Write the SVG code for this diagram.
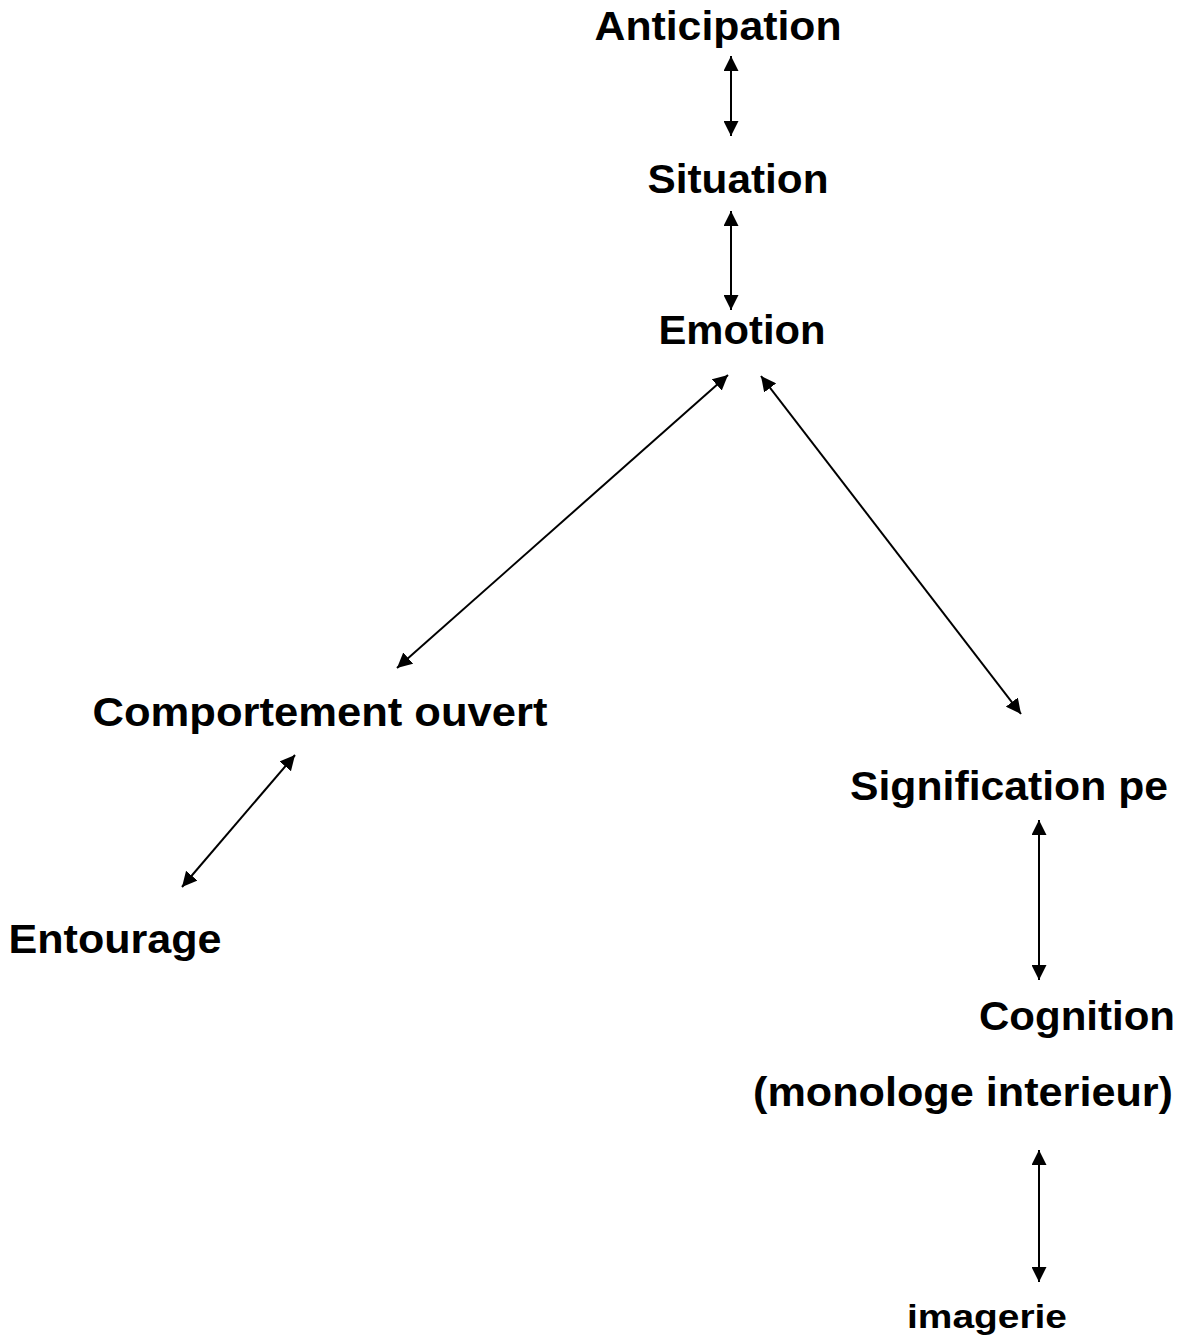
<svg xmlns="http://www.w3.org/2000/svg" width="1184" height="1342" viewBox="0 0 1184 1342">
<defs>
<marker id="ah" viewBox="0 0 15 15" refX="15" refY="7.5" markerWidth="15" markerHeight="15" markerUnits="userSpaceOnUse" orient="auto-start-reverse">
<path d="M0,0 L15,7.5 L0,15 Z" fill="#000"/>
</marker>
<style>
text{font-family:"Liberation Sans",Arial,sans-serif;font-weight:bold;fill:#000;text-anchor:middle;font-size:40px}
.c line{stroke:#000;stroke-width:2;marker-start:url(#ah);marker-end:url(#ah)}
</style>
</defs>
<rect width="1184" height="1342" fill="#fff"/>
<g id="n-anticipation"><text x="718" y="40" textLength="247" lengthAdjust="spacingAndGlyphs">Anticipation</text></g>
<g id="n-situation"><text x="738" y="193" textLength="181" lengthAdjust="spacingAndGlyphs">Situation</text></g>
<g id="n-emotion"><text x="742" y="344" textLength="167" lengthAdjust="spacingAndGlyphs">Emotion</text></g>
<g id="n-comportement"><text x="320" y="726" textLength="455" lengthAdjust="spacingAndGlyphs">Comportement ouvert</text></g>
<g id="n-entourage"><text x="115" y="953" textLength="213" lengthAdjust="spacingAndGlyphs">Entourage</text></g>
<g id="n-signification"><text x="1009" y="800" textLength="318" lengthAdjust="spacingAndGlyphs">Signification pe</text></g>
<g id="n-cognition"><text x="1077" y="1030" textLength="196" lengthAdjust="spacingAndGlyphs">Cognition</text><text x="963" y="1106" textLength="420" lengthAdjust="spacingAndGlyphs">(monologe interieur)</text></g>
<g id="n-imagerie"><text x="987" y="1328" style="font-size:34px" textLength="160" lengthAdjust="spacingAndGlyphs">imagerie</text></g>
<g class="c" id="connectors">
<line x1="731" y1="56" x2="731" y2="136"/>
<line x1="731" y1="211" x2="731" y2="310"/>
<line x1="728" y1="375" x2="397" y2="668"/>
<line x1="761" y1="376" x2="1021" y2="714"/>
<line x1="295" y1="755" x2="182" y2="887"/>
<line x1="1039" y1="820" x2="1039" y2="980"/>
<line x1="1039" y1="1150" x2="1039" y2="1282"/>
</g>
</svg>
